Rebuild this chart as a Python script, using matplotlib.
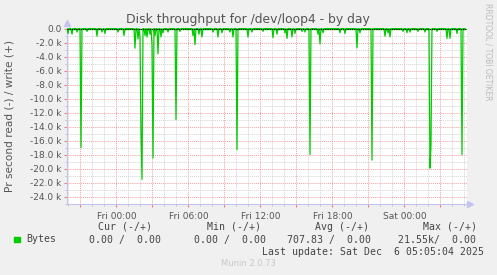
import numpy as np
import matplotlib
matplotlib.use('Agg')
import matplotlib.pyplot as plt

# hours relative to Fri 00:00, read values in kB/s (read side, drawn negative)
dip_hours = [-4.04, -3.71, -3.29, -2.46, -1.63, -1.21, -0.96, 0.13, 0.63, 1.54,
             1.79, 1.96, 2.38, 2.54, 2.79, 2.96, 3.21, 3.46, 3.71, 3.88,
             4.29, 5.29, 6.38, 6.54, 6.88, 7.13, 8.04, 8.46, 8.79, 9.46,
             9.71, 10.96, 11.29, 12.21, 13.04, 13.38, 14.04, 14.21, 14.63, 14.88,
             15.46, 15.71, 16.79, 16.96, 17.21, 18.63, 19.04, 20.04, 20.29, 22.38,
             22.63, 22.79, 23.88, 24.21, 24.46, 25.13, 25.71, 26.71, 27.54, 27.79,
             28.38]
dip_kb = [0.7, 0.8, 0.5, 0.4, 1.1, 0.5, 0.7, 0.5, 1.0, 2.8,
          1.5, 1.2, 1.0, 1.2, 0.8, 2.4, 1.0, 3.6, 1.2, 0.6,
          0.5, 0.4, 1.0, 2.3, 0.8, 1.2, 0.5, 1.2, 0.6, 0.5,
          1.2, 1.2, 0.5, 0.4, 1.3, 0.8, 0.6, 1.4, 1.2, 0.7,
          0.4, 0.5, 0.8, 2.2, 0.6, 0.6, 0.7, 2.75, 0.6, 1.1,
          0.6, 1.2, 0.4, 0.6, 0.5, 0.4, 0.5, 0.4, 1.4, 1.4,
          0.7]
spike_hours = [-2.98, 2.07, 2.15, 3.07, 4.93, 10.07, 16.15, 21.32, 26.15, 26.23, 28.82]
spike_kb = [17.0, 15.0, 21.55, 18.5, 13.0, 17.3, 18.0, 18.8, 19.95, 16.7, 18.0]

tick_hours = [0, 6, 12, 18, 24]
tick_labels = ['Fri 00:00', 'Fri 06:00', 'Fri 12:00', 'Fri 18:00', 'Sat 00:00']

t_start, t_end = -4.125, 29.21
step = 5 / 60.0
t = np.arange(t_start, 29.1 + 1e-9, step)
read = np.zeros_like(t)
for h, v in zip(dip_hours + spike_hours, dip_kb + spike_kb):
    i = int(round((h - t_start) / step))
    read[i] = max(read[i], v)
write = np.zeros_like(t)

W, H = 497, 275
fig = plt.figure(figsize=(W / 100, H / 100), dpi=100, facecolor='#F0F0F0')
ax = fig.add_axes([67 / W, 1 - 203.5 / H, 400 / W, 175.5 / H])
ax.set_facecolor('white')

green = '#00CC00'
ax.plot(t, -read, color=green, lw=0.9, zorder=3)
ax.plot(t, write, color=green, lw=0.9, zorder=3)
ax.axhline(0, color='black', lw=0.8, ls=(0, (1, 1)), zorder=4)

ax.set_xlim(t_start, t_end)
ax.set_ylim(-25.0, 0.08)

ax.set_xticks(np.arange(-3, 29, 3))
ax.set_xticklabels([tick_labels[tick_hours.index(h)] if h in tick_hours else ''
                    for h in range(-3, 29, 3)])
ax.set_xticks(np.arange(-4, 30, 1), minor=True)
yt = np.arange(0, -25, -2)
ax.set_yticks(yt)
ax.set_yticklabels(['0.0'] + ['%.1f k' % v for v in yt[1:]])
ax.set_yticks(np.arange(0, -25.5, -1), minor=True)

ax.grid(which='minor', color='#D4D4D4', lw=0.7, ls=(0, (1, 1)))
ax.grid(which='major', color='#F4A0A0', lw=0.7, ls=(0, (1, 1)))
ax.set_axisbelow(True)

ax.tick_params(which='both', labelsize=6.5, labelcolor='#555555', pad=2)
ax.tick_params(which='major', length=2, color='#F08080')
ax.tick_params(which='minor', length=1.5, color='#C0C0C0')
ax.tick_params(axis='x', pad=4)

for s in ['top', 'right']:
    ax.spines[s].set_visible(False)
for s in ['left', 'bottom']:
    ax.spines[s].set_color('#C4C4F0')
    ax.spines[s].set_linewidth(0.8)

ax.plot([0], [1.03], marker='^', ms=4, color='#C4C4F0', transform=ax.transAxes, clip_on=False)
ax.plot([1.008], [0], marker='>', ms=4, color='#C4C4F0', transform=ax.transAxes, clip_on=False)

ax.set_ylabel('Pr second read (-) / write (+)', fontsize=7.6, color='#555555')
ax.yaxis.set_label_coords(-(67 - 15) / 400, 0.5)

fig.text(248 / W, 1 - 19 / H, 'Disk throughput for /dev/loop4 - by day',
         ha='center', va='center', fontsize=8.9, color='#555555')
fig.text(488 / W, 1 - 52 / H, 'RRDTOOL / TOBI OETIKER', rotation=270,
         ha='center', va='center', fontsize=5.5, color='#BBBBBB')

mono = dict(family='DejaVu Sans Mono', fontsize=7.1, color='#444444', va='center', ha='left')
def px(x, y, s, **kw):
    d = dict(mono)
    d.update(kw)
    fig.text(x / W, 1 - y / H, s, **d)

px(98.3, 226.7, 'Cur (-/+)')
px(206.7, 226.7, 'Min (-/+)')
px(315, 226.7, 'Avg (-/+)')
px(422.7, 226.7, 'Max (-/+)')
px(26.7, 239.5, 'Bytes')
px(89, 239.5, '0.00 /  0.00')
px(194, 239.5, '0.00 /  0.00')
px(287.3, 239.5, '707.83 /  0.00')
px(398.3, 239.5, '21.55k/  0.00')
px(261.7, 251.7, 'Last update: Sat Dec  6 05:05:04 2025')
fig.text(248 / W, 1 - 263 / H, 'Munin 2.0.73', ha='center', va='center',
         fontsize=6, color='#C8C8C8')
fig.patches.append(plt.Rectangle((14 / W, 1 - 242 / H), 6 / W, 5.5 / H,
                                 transform=fig.transFigure, color=green))

fig.savefig('out.png', dpi=100, facecolor=fig.get_facecolor())
